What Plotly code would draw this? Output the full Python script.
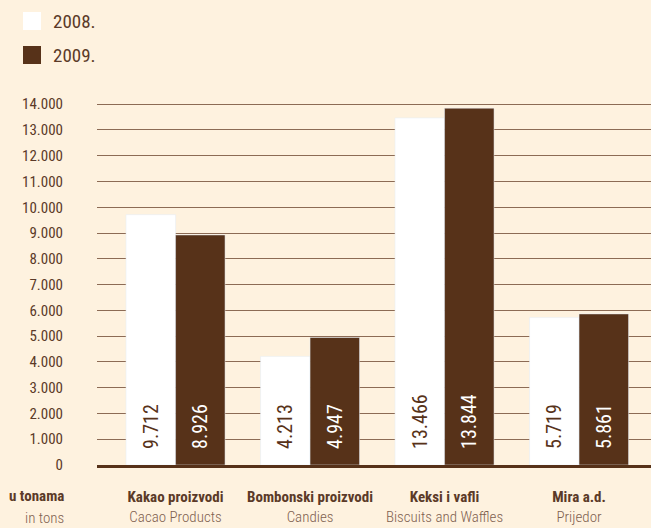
import plotly.graph_objects as go

categories_bold = ["Kakao proizvodi", "Bombonski proizvodi", "Keksi i vafli", "Mira a.d."]
categories_en = ["Cacao Products", "Candies", "Biscuits and Waffles", "Prijedor"]
values_2008 = [9712, 4213, 13466, 5719]
values_2009 = [8926, 4947, 13844, 5861]
series_names = ["2008.", "2009."]
y_ticks = list(range(0, 14001, 1000))

BG = "#FEF2DF"
BROWN = "#573219"
TEXT = "#5B3A28"
TEXT2 = "#7E6150"
FONT = "Roboto Condensed, DejaVu Sans Condensed, sans-serif"

W, H = 651, 528
ML, MR, MT, MB = 97, 0, 99, 63
PW, PH = W - ML - MR, H - MT - MB


def px_x(px):
    return (px - ML) / PW


def px_y(py):
    return (H - MB - py) / PH


xs = list(range(len(categories_bold)))
ticktext = [f"<b>{b}</b><br><span style='color:{TEXT2};font-weight:300'>{e}</span>"
            for b, e in zip(categories_bold, categories_en)]

pad = "\u00a0\u00a0\u2009"
fig = go.Figure()
fig.add_trace(go.Bar(
    x=xs, y=values_2008, name=series_names[0], marker_color="#FFFFFF",
    texttemplate=pad + "%{y:,d}", textposition="inside", insidetextanchor="start",
    textangle=-90, textfont=dict(color=BROWN, size=20, family=FONT),
    constraintext="none", showlegend=False,
))
fig.add_trace(go.Bar(
    x=xs, y=values_2009, name=series_names[1], marker_color=BROWN,
    texttemplate=pad + "%{y:,d}", textposition="inside", insidetextanchor="start",
    textangle=-90, textfont=dict(color="#FFFFFF", size=20, family=FONT),
    constraintext="none", showlegend=False,
))

# manual legend
shapes = []
annotations = []
legend_colors = ["#FFFFFF", BROWN]
legend_rows = [(12, 30), (46, 64)]
for name, col, (y0, y1) in zip(series_names, legend_colors, legend_rows):
    shapes.append(dict(type="rect", xref="paper", yref="paper",
                       x0=px_x(23), x1=px_x(41), y0=px_y(y1), y1=px_y(y0),
                       fillcolor=col, line=dict(width=0)))
    annotations.append(dict(xref="paper", yref="paper", x=px_x(51), y=px_y((y0 + y1) / 2),
                            xanchor="left", yanchor="middle", showarrow=False,
                            text=name, font=dict(size=19, color=TEXT, family=FONT)))

annotations.append(dict(xref="paper", yref="paper", x=px_x(66), y=px_y(496),
                        xanchor="right", yanchor="middle", showarrow=False,
                        text="<b>u tonama</b>", font=dict(size=15, color=TEXT, family=FONT)))
annotations.append(dict(xref="paper", yref="paper", x=px_x(66), y=px_y(518),
                        xanchor="right", yanchor="middle", showarrow=False,
                        text="in tons", font=dict(size=15, color=TEXT2, family=FONT, weight=300)))

fig.update_layout(
    width=W, height=H,
    margin=dict(l=ML, r=MR, t=MT, b=MB, autoexpand=False),
    paper_bgcolor=BG, plot_bgcolor=BG,
    barmode="group", bargap=0.264, bargroupgap=0,
    separators=",.",
    font=dict(family=FONT, color=TEXT, size=15),
    shapes=shapes, annotations=annotations,
    xaxis=dict(range=[-0.584, 3.535], tickvals=xs, ticktext=ticktext,
               tickangle=0, automargin=False,
               showgrid=False, zeroline=False, showline=True,
               linecolor=BROWN, linewidth=3,
               ticks="outside", ticklen=16, tickcolor="rgba(0,0,0,0)",
               tickfont=dict(size=15, color=TEXT, family=FONT)),
    yaxis=dict(range=[0, 14200], tickvals=y_ticks, tickformat=",d",
               automargin=False,
               showgrid=True, gridcolor="#8C6B55", gridwidth=1.3,
               zeroline=False, showline=False,
               ticks="outside", ticklen=30, tickcolor="rgba(0,0,0,0)",
               tickfont=dict(size=15, color=TEXT, family=FONT)),
)

fig.write_html("out.html")
